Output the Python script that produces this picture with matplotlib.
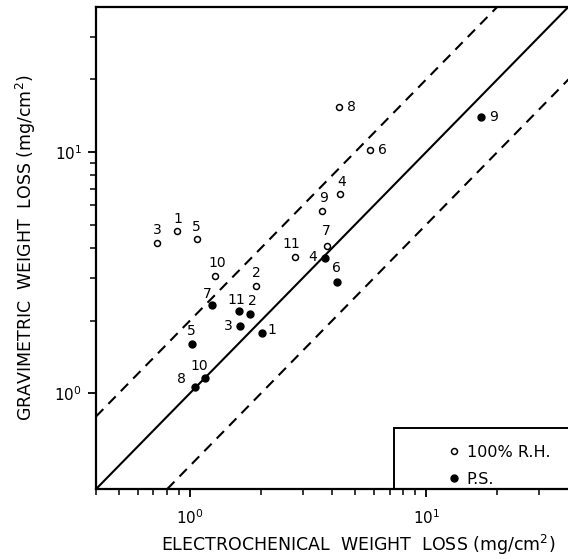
#!/usr/bin/env python3

import matplotlib
matplotlib.use('Agg')
import matplotlib.pyplot as plt
from matplotlib.patches import Rectangle
from matplotlib.ticker import FixedLocator, NullFormatter

# 100% R.H. samples (open circles)
rh_labels = ['1', '2', '3', '4', '5', '6', '7', '8', '9', '10', '11']
rh_electro = [0.885, 1.91, 0.728, 4.32, 1.067, 5.79, 3.79, 4.28, 3.61, 1.27, 2.77]
rh_gravi = [4.70, 2.79, 4.20, 6.68, 4.34, 10.2, 4.07, 15.4, 5.69, 3.07, 3.68]

# P.S. samples (filled circles)
ps_labels = ['1', '2', '3', '4', '5', '6', '7', '8', '9', '10', '11']
ps_electro = [2.02, 1.79, 1.62, 3.72, 1.016, 4.18, 1.236, 1.05, 17.0, 1.16, 1.606]
ps_gravi = [1.78, 2.13, 1.90, 3.62, 1.60, 2.89, 2.31, 1.06, 13.95, 1.16, 2.18]

# reference lines: gravimetric = ratio * electrochemical
line_ratios = [0.5, 1.0, 2.0]
line_styles = ['--', '-', '--']

# minor ticks on the gravimetric axis (none below 1 in the original)
y_minor = [2, 3, 4, 5, 6, 7, 8, 9, 20, 30]

# label offsets in points (dx, dy)
rh_offsets = [(0, 9), (0, 9), (0, 9), (1, 9), (0, 9), (9, 0), (0, 11), (9, 0), (1, 9), (2, 9), (-2, 9)]
ps_offsets = [(7, 2), (2, 9), (-8, 0), (-9, 1), (0, 9), (0, 10), (-3, 8), (-10, 6), (9, 0), (-4, 8), (-2, 8)]

fig = plt.figure(figsize=(5.68, 5.59), dpi=100)
ax = fig.add_axes([0.169, 0.125, 0.832, 0.863])
ax.set_xscale('log')
ax.set_yscale('log')
ax.set_xlim(0.4, 40)
ax.set_ylim(0.4, 40)

for r, ls in zip(line_ratios, line_styles):
    ax.axline((1.0, r), (10.0, 10.0 * r), color='black', lw=1.5, ls=ls,
              dashes=(5, 3.5) if ls == '--' else (None, None))

ax.plot(rh_electro, rh_gravi, 'o', ms=4.3, mfc='white', mec='black', mew=1.1,
        label='100% R.H.', zorder=3)
ax.plot(ps_electro, ps_gravi, 'o', ms=5, mfc='black', mec='black',
        label='P.S.', zorder=3)

for xs, ys, labs, offs in [(rh_electro, rh_gravi, rh_labels, rh_offsets),
                           (ps_electro, ps_gravi, ps_labels, ps_offsets)]:
    for xv, yv, lab, (dx, dy) in zip(xs, ys, labs, offs):
        ax.annotate(lab, (xv, yv), xytext=(dx, dy), textcoords='offset points',
                    ha='center', va='center', fontsize=10)

ax.yaxis.set_minor_locator(FixedLocator(y_minor))
ax.yaxis.set_minor_formatter(NullFormatter())

ax.spines['right'].set_visible(False)
for s in ['left', 'bottom', 'top']:
    ax.spines[s].set_linewidth(1.6)
ax.tick_params(which='major', direction='out', length=6, width=1.3, labelsize=11, pad=4)
ax.tick_params(which='minor', direction='out', length=4, width=1.1)
ax.tick_params(axis='x', pad=8)

ax.set_xlabel('ELECTROCHENICAL  WEIGHT  LOSS (mg/cm$^2$)', fontsize=12.5, labelpad=4, x=0.555)
ax.set_ylabel('GRAVIMETRIC  WEIGHT  LOSS (mg/cm$^2$)', fontsize=12.5, labelpad=12)

# legend box
ax.add_patch(Rectangle((0.631, 0.0), 0.5, 0.126, transform=ax.transAxes,
                       fill=False, ec='black', lw=1.4, clip_on=False, zorder=4))
leg = ax.legend(loc='lower left', bbox_to_anchor=(0.71, -0.025), frameon=False,
                fontsize=11.5, handletextpad=0.3, labelspacing=0.75, handlelength=1.0)

plt.savefig('out.png', dpi=100)
